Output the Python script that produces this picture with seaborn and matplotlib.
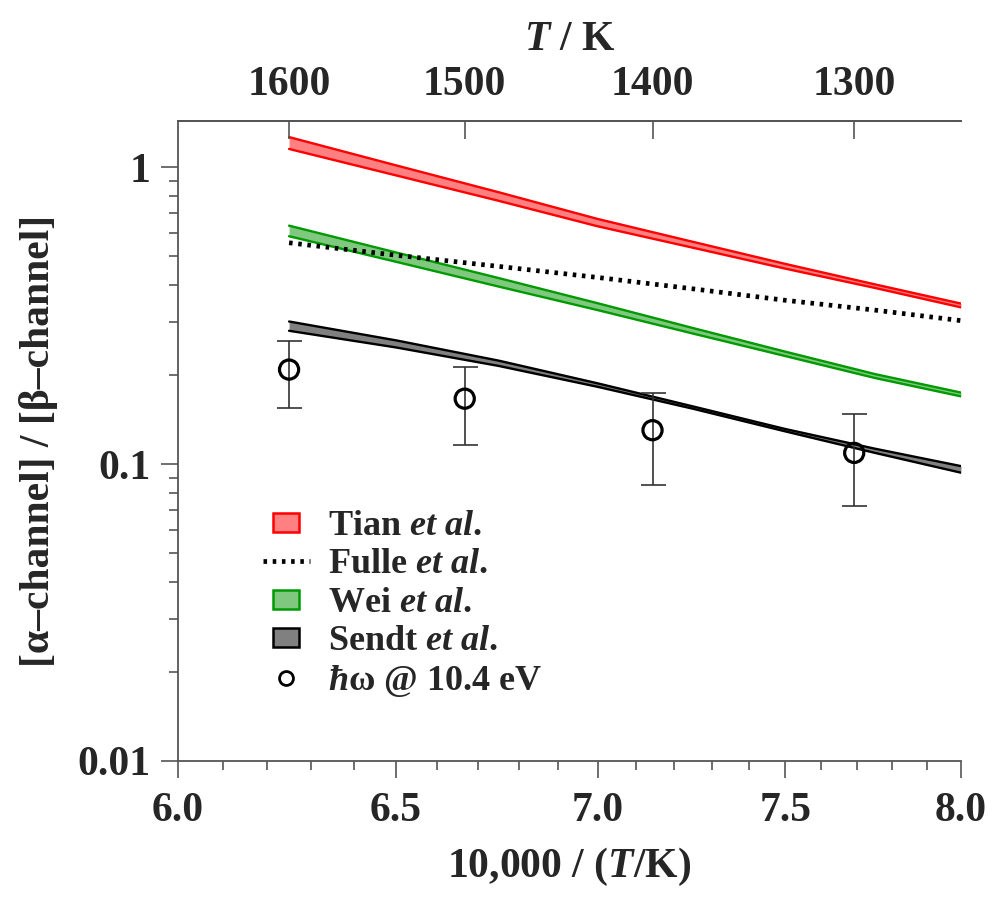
import numpy as np
import pandas as pd
import matplotlib
matplotlib.use("Agg")
import matplotlib.pyplot as plt
from matplotlib.patches import Patch, Rectangle
from matplotlib.lines import Line2D
from matplotlib.legend_handler import HandlerPatch
from matplotlib.ticker import FixedLocator, NullFormatter, FixedFormatter
import seaborn as sns

# --- data -----------------------------------------------------------------
inv_T = [6.25, 6.5, 6.75, 7.0, 7.25, 7.5, 7.75, 8.0]          # 10,000 / (T/K)
tian_lo = [1.151, 0.938, 0.770, 0.632, 0.535, 0.455, 0.392, 0.337]
tian_hi = [1.262, 1.014, 0.823, 0.669, 0.560, 0.472, 0.403, 0.347]
wei_lo = [0.585, 0.480, 0.396, 0.330, 0.275, 0.231, 0.195, 0.169]
wei_hi = [0.635, 0.516, 0.423, 0.348, 0.287, 0.239, 0.201, 0.174]
sendt_lo = [0.281, 0.247, 0.214, 0.182, 0.1535, 0.1288, 0.1091, 0.0935]
sendt_hi = [0.302, 0.261, 0.223, 0.187, 0.1563, 0.1312, 0.1127, 0.0984]
fulle = [0.556, 0.505, 0.463, 0.425, 0.389, 0.356, 0.330, 0.304]

T_meas = [1600, 1500, 1400, 1300]
ratio_meas = [0.208, 0.166, 0.130, 0.109]
ratio_lo = [0.154, 0.116, 0.085, 0.072]
ratio_hi = [0.260, 0.213, 0.174, 0.147]

x_ticks = [6.0, 6.5, 7.0, 7.5, 8.0]
x_tick_labels = ["6.0", "6.5", "7.0", "7.5", "8.0"]
y_ticks = [0.01, 0.1, 1]
y_tick_labels = ["0.01", "0.1", "1"]
T_ticks = [1600, 1500, 1400, 1300]

labels = [r"Tian $et\ al.$", r"Fulle $et\ al.$", r"Wei $et\ al.$",
          r"Sendt $et\ al.$", r"$ħ$ω @ 10.4 eV"]

# --- style ----------------------------------------------------------------
sns.set_theme(style="ticks")
plt.rcParams["font.family"] = ["Liberation Serif", "DejaVu Serif"]
plt.rcParams["font.weight"] = "bold"
plt.rcParams["mathtext.fontset"] = "custom"
plt.rcParams["mathtext.rm"] = "Liberation Serif:bold"
plt.rcParams["mathtext.bf"] = "Liberation Serif:bold"
plt.rcParams["mathtext.it"] = "Liberation Serif:italic:bold"

spine_col = "#555555"
red, red_fill = "#ff0000", "#ff8080"
green, green_fill = "#009a00", "#80c880"
black, black_fill = "#000000", "#808080"
dot_style = (0, (0.75, 1.2))

fig = plt.figure(figsize=(9.92, 8.98), dpi=100)
ax = fig.add_axes([0.1794, 0.1526, 0.7893, 0.7127])
ax.set_xscale("log")
ax.set_yscale("log")

df = pd.DataFrame({"x": inv_T,
                   "tian_lo": tian_lo, "tian_hi": tian_hi,
                   "wei_lo": wei_lo, "wei_hi": wei_hi,
                   "sendt_lo": sendt_lo, "sendt_hi": sendt_hi,
                   "fulle": fulle})

# shaded bands with solid edges
for key, edge, fill in [("tian", red, red_fill), ("wei", green, green_fill),
                        ("sendt", black, black_fill)]:
    ax.fill_between(df["x"], df[key + "_lo"], df[key + "_hi"],
                    color=fill, linewidth=0, zorder=2)
    for side in ("_lo", "_hi"):
        sns.lineplot(data=df, x="x", y=key + side, ax=ax, color=edge,
                     linewidth=1.7, zorder=3, estimator=None)

# dotted literature curve
ax.plot(df["x"], df["fulle"], color="black", linewidth=3.4,
        linestyle=dot_style, dash_capstyle="butt", zorder=4)

# measurements at 10.4 eV
x_meas = 1e4 / np.array(T_meas, dtype=float)
y_meas = np.array(ratio_meas)
yerr = [y_meas - np.array(ratio_lo), np.array(ratio_hi) - y_meas]
ax.errorbar(x_meas, y_meas, yerr=yerr, fmt="none", ecolor="#333333",
            elinewidth=1.2, capsize=9, capthick=1.2, zorder=5)
sns.scatterplot(x=x_meas, y=y_meas, ax=ax, marker="o", s=190,
                facecolor="none", edgecolor="black", linewidth=2.3,
                zorder=6)

# --- axes -----------------------------------------------------------------
ax.set_xlim(6.0, 8.0)
ax.set_ylim(0.01, 1.43)
ax.xaxis.set_major_locator(FixedLocator(x_ticks))
ax.xaxis.set_major_formatter(FixedFormatter(x_tick_labels))
ax.xaxis.set_minor_locator(FixedLocator(np.arange(6.0, 8.01, 0.1)))
ax.xaxis.set_minor_formatter(NullFormatter())
ax.yaxis.set_major_locator(FixedLocator(y_ticks))
ax.yaxis.set_major_formatter(FixedFormatter(y_tick_labels))
ax.yaxis.set_minor_locator(FixedLocator(
    [m * d for d in (0.01, 0.1) for m in range(2, 10)] + [1.0]))
ax.yaxis.set_minor_formatter(NullFormatter())

ax.tick_params(which="major", direction="out", length=12, width=1.2,
               color=spine_col, labelsize=30, pad=8)
ax.tick_params(which="minor", direction="out", length=6.5, width=1.2,
               color=spine_col)
ax.tick_params(axis="x", which="major", pad=10)
ax.tick_params(top=False, right=False, which="both")

for name, sp in ax.spines.items():
    sp.set_color(spine_col)
    sp.set_linewidth(1.3)
ax.spines["right"].set_visible(False)

ax.set_xlabel(r"10,000 / ($T$/K)", fontsize=30, fontweight="bold", labelpad=12)
ax.set_ylabel("[α–channel] / [β–channel]", fontsize=30, fontweight="bold",
              labelpad=14)

# temperature scale on top
ax2 = ax.twiny()
ax2.set_xscale("log")
ax2.set_xlim(ax.get_xlim())
ax2.xaxis.set_major_locator(FixedLocator(1e4 / np.array(T_ticks, dtype=float)))
ax2.xaxis.set_major_formatter(FixedFormatter([str(t) for t in T_ticks]))
ax2.xaxis.set_minor_locator(FixedLocator([]))
ax2.tick_params(axis="x", which="major", direction="in", length=13, width=1.2,
                color=spine_col, labelsize=30, pad=12)
for name, sp in ax2.spines.items():
    sp.set_visible(name == "top")
    sp.set_color(spine_col)
    sp.set_linewidth(1.3)
ax2.set_xlabel(r"$T$ / K", fontsize=30, fontweight="bold", labelpad=12)

# --- legend ---------------------------------------------------------------
def small_box(legend, orig_handle, xdescent, ydescent, width, height, fontsize):
    w, h = 0.56 * width, 0.75 * height
    return Rectangle((-xdescent + (width - w) / 2, -ydescent + (height - h) / 2),
                     w, h)

handles = [
    Patch(facecolor=red_fill, edgecolor=red, linewidth=1.8),
    Line2D([], [], color="black", linewidth=3.4, linestyle=dot_style,
           dash_capstyle="butt"),
    Patch(facecolor=green_fill, edgecolor=green, linewidth=1.8),
    Patch(facecolor=black_fill, edgecolor=black, linewidth=1.8),
    Line2D([], [], linestyle="none", marker="o", markersize=10,
           markerfacecolor="none", markeredgecolor="black", markeredgewidth=2.0),
]
ax.legend(handles, labels, loc="upper left", bbox_to_anchor=(0.09, 0.415),
          frameon=False, fontsize=26, handlelength=1.3, handletextpad=0.5,
          labelspacing=0.14, borderaxespad=0,
          handler_map={Patch: HandlerPatch(patch_func=small_box)})

fig.savefig("out.png", dpi=100)
